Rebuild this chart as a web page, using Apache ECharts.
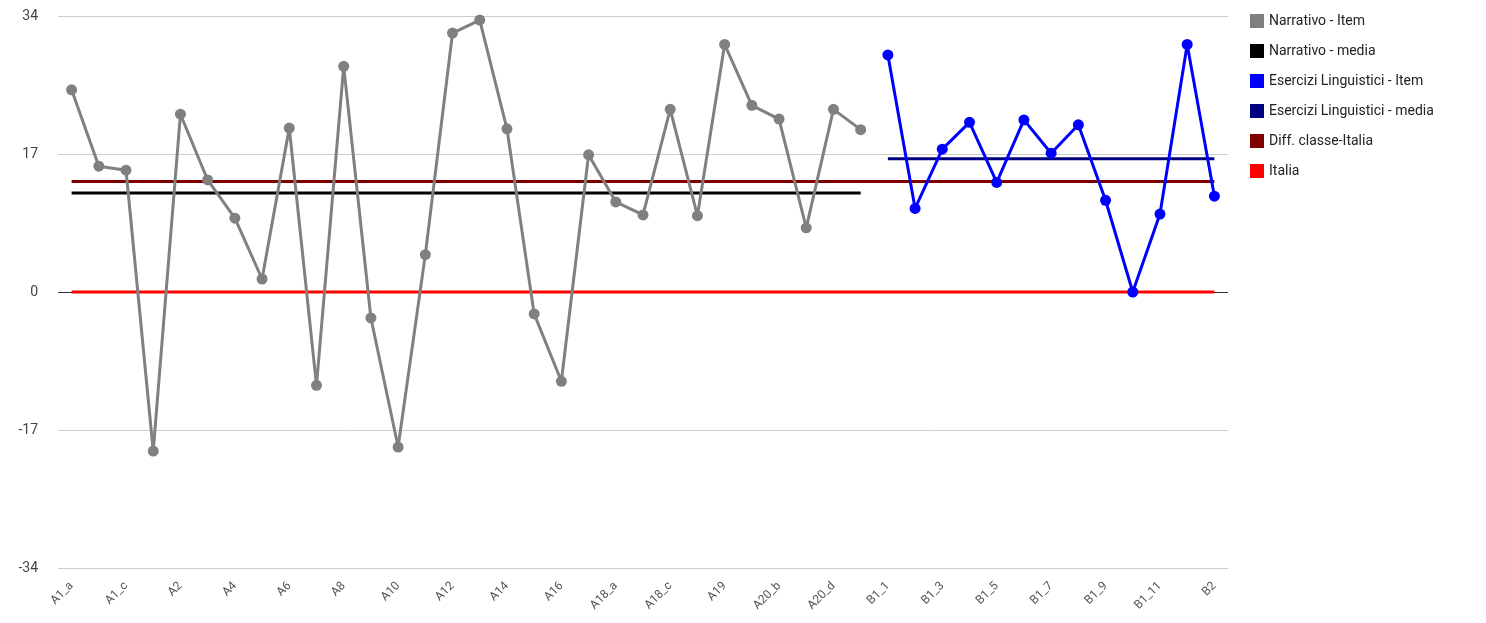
<!DOCTYPE html>
<html>
<head>
<meta charset="utf-8">
<script src="https://cdn.jsdelivr.net/npm/echarts@6/dist/echarts.min.js"></script>
<style>
  html, body { margin: 0; padding: 0; background: #fff; }
  #chart { width: 1486px; height: 623px; }
</style>
</head>
<body>
<div id="chart"></div>
<script>
// categorie (item)
var narrCats = ['A1_a','A1_b','A1_c','A1_d','A2','A3','A4','A5','A6','A7','A8','A9','A10','A11','A12',
  'A13','A14','A15','A16','A17','A18_a','A18_b','A18_c','A18_d','A19','A20_a','A20_b','A20_c','A20_d','A20_e'];
var eserCats = ['B1_1','B1_2','B1_3','B1_4','B1_5','B1_6','B1_7','B1_8','B1_9','B1_10','B1_11','B1_12','B2'];

// valori
var narrItem = [24.9, 15.5, 15.0, -19.6, 21.9, 13.8, 9.1, 1.6, 20.2, -11.5, 27.8, -3.2, -19.1, 4.6, 31.9,
  33.5, 20.1, -2.7, -11.0, 16.9, 11.1, 9.5, 22.5, 9.4, 30.5, 23.0, 21.3, 7.9, 22.5, 20.0];
var eserItem = [29.2, 10.3, 17.6, 20.9, 13.5, 21.2, 17.1, 20.6, 11.3, 0, 9.6, 30.5, 11.8];
var narrMedia = 12.2;
var eserMedia = 16.4;
var diffClasse = 13.6;
var italia = 0;
var yTicks = [-34, -17, 0, 17, 34];

var cats = narrCats.concat(eserCats);
var nN = narrCats.length, nE = eserCats.length;

function fill(v, n) { var a = []; for (var i = 0; i < n; i++) a.push(v); return a; }

var sNarrItem = narrItem.concat(fill(null, nE));
var sNarrMedia = fill(narrMedia, nN).concat(fill(null, nE));
var sEserItem = fill(null, nN).concat(eserItem);
var sEserMedia = fill(null, nN).concat(fill(eserMedia, nE));
var sDiff = fill(diffClasse, cats.length);
var sItalia = fill(italia, cats.length);

var myChart = echarts.init(document.getElementById('chart'));
var font = 'Roboto, Arial, sans-serif';

var option = {
  animation: false,
  textStyle: { fontFamily: font },
  grid: { left: 58, right: 258, top: 16, bottom: 55, containLabel: false, outerBoundsMode: 'none' },
  legend: {
    orient: 'vertical',
    left: 1245,
    top: 9,
    icon: 'rect',
    itemWidth: 14,
    itemHeight: 14,
    itemGap: 16,
    textStyle: { color: '#222', fontSize: 14, fontFamily: font },
    data: ['Narrativo - Item', 'Narrativo - media', 'Esercizi Linguistici - Item',
      'Esercizi Linguistici - media', 'Diff. classe-Italia', 'Italia']
  },
  xAxis: {
    type: 'category',
    data: cats,
    boundaryGap: true,
    axisLine: { show: false, onZero: false },
    axisTick: { show: false },
    axisLabel: { rotate: 45, interval: 1, color: '#555', fontSize: 12, fontFamily: font, margin: 16 }
  },
  yAxis: {
    type: 'value',
    min: yTicks[0],
    max: yTicks[yTicks.length - 1],
    interval: 17,
    axisLine: { show: false },
    axisTick: { show: false },
    axisLabel: { color: '#444', fontSize: 14, fontFamily: font, margin: 20 },
    splitLine: { lineStyle: { color: '#ccc', width: 1 } }
  },
  series: [
    {
      name: 'Narrativo - Item', type: 'line', data: sNarrItem,
      color: '#808080', symbol: 'circle', symbolSize: 11,
      lineStyle: { width: 3 }, z: 3
    },
    {
      name: 'Narrativo - media', type: 'line', data: sNarrMedia,
      color: '#000000', symbol: 'none', lineStyle: { width: 3 }, z: 2
    },
    {
      name: 'Esercizi Linguistici - Item', type: 'line', data: sEserItem,
      color: '#0000ff', symbol: 'circle', symbolSize: 11,
      lineStyle: { width: 3 }, z: 3
    },
    {
      name: 'Esercizi Linguistici - media', type: 'line', data: sEserMedia,
      color: '#000080', symbol: 'none', lineStyle: { width: 3 }, z: 2
    },
    {
      name: 'Diff. classe-Italia', type: 'line', data: sDiff,
      color: '#800000', symbol: 'none', lineStyle: { width: 3 }, z: 2
    },
    {
      name: 'Italia', type: 'line', data: sItalia,
      color: '#ff0000', symbol: 'none', lineStyle: { width: 3 }, z: 2,
      // linea dello zero (asse), scura, su tutta la larghezza
      markLine: {
        silent: true, symbol: 'none', label: { show: false }, z: 1,
        lineStyle: { color: '#333', width: 1, type: 'solid' },
        data: [{ yAxis: italia }]
      }
    }
  ]
};
myChart.setOption(option);
</script>
</body>
</html>
